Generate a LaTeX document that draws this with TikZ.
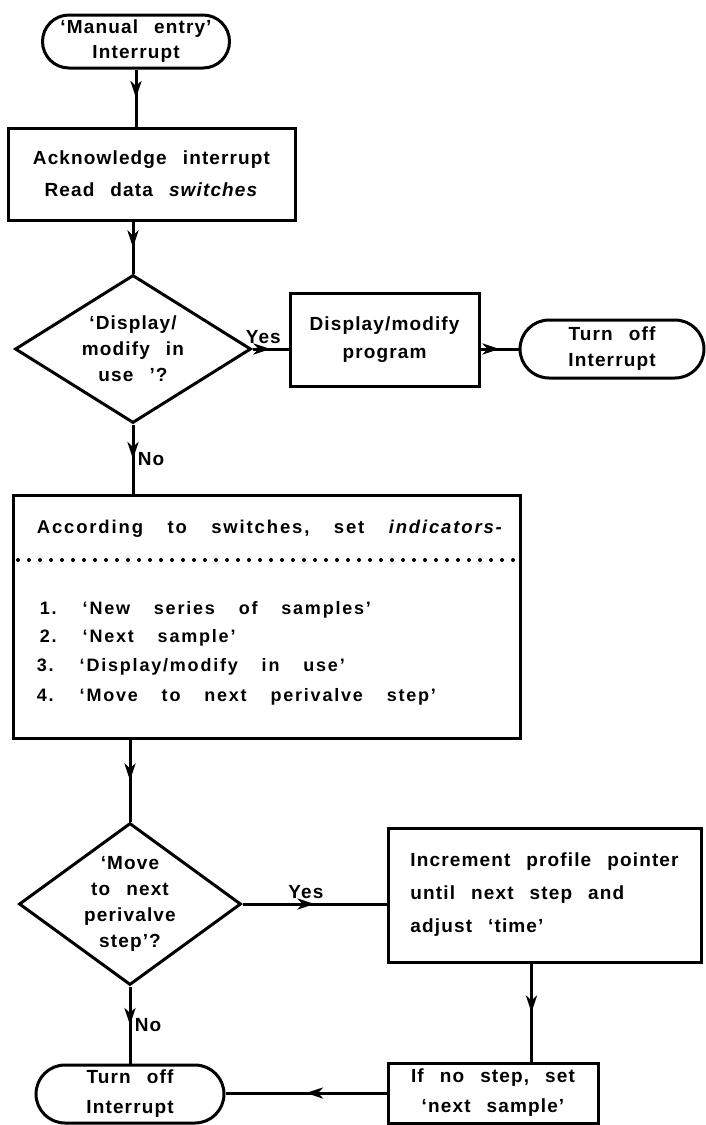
\documentclass[tikz,border=0pt]{standalone}
\usepackage{fontspec}
\setmainfont[LetterSpace=6,WordSpace=2.5]{Liberation Sans}
\newfontfamily\itemfont[Ligatures=TeX,LetterSpace=10,WordSpace=3.5]{Liberation Sans}
\usetikzlibrary{positioning,arrows.meta,shapes.geometric,shapes.misc,decorations.markings}

\begin{document}
\begin{tikzpicture}[x=1pt,y=-1pt,line width=3pt,
  every node/.style={font=\fontsize{19}{26}\selectfont\bfseries},
  box/.style={draw,rectangle,align=center,inner sep=0pt},
  term/.style={draw,rounded rectangle,align=center,inner sep=0pt},
  test/.style={draw,diamond,align=center,inner sep=0pt},
  item/.style={anchor=west,font=\itemfont\fontsize{18}{20}\selectfont\bfseries},
  flow/.style={postaction={decorate},decoration={markings,
    mark=at position 0.5 with {\arrow{Stealth[length=17pt,width=11pt,inset=5pt]}}}},
  dots/.style={line width=4pt,line cap=round,dash pattern=on 0pt off 11pt}]
\useasboundingbox (0,0) rectangle (705,1125);
% upper part
\node[term,minimum width=187pt,minimum height=53pt,font=\fontsize{19}{25}\selectfont\bfseries] (start) at (136,41.5) {`Manual entry'\\Interrupt};
\node[box,minimum width=287pt,minimum height=92pt,font=\fontsize{19}{32}\selectfont\bfseries] (ack) at (151.5,174) {Acknowledge interrupt\\Read data \textit{switches}};
\node[test,aspect=1.6,minimum width=236pt,minimum height=148pt] (dispq) at (133,349) {`Display/\\modify in\\use '?};
\node[box,minimum width=189pt,minimum height=93pt,font=\fontsize{19}{28}\selectfont\bfseries] (dispmod) at (384.5,340) {Display/modify\\program};
\node[term,minimum width=184pt,minimum height=58pt] (offA) at (612,349) {Turn off\\Interrupt};
% indicator box
\node[box,minimum width=507pt,minimum height=243pt] (setind) at (266.5,616.5) {};
\node[anchor=west,font=\itemfont\fontsize{18.5}{20}\selectfont\bfseries] (hdr) at (32,529) {According to switches, set \textit{indicators-}};
\draw[dots] (18,560) -- (516,560);
\node[item] (itemA) at (35,610) {1. `New series of samples'};
\node[item] (itemB) at (35,638) {2. `Next sample'};
\node[item] (itemC) at (32,667) {3. `Display/modify in use'};
\node[item] (itemD) at (32,697) {4. `Move to next perivalve step'};
% lower part
\node[test,aspect=1.37,minimum width=222pt,minimum height=162pt] (moveq) at (130,904) {`Move\\to next\\perivalve\\step'?};
\node[box,minimum width=313pt,minimum height=134pt,font=\fontsize{19}{33}\selectfont\bfseries,align=left] (incr) at (544.5,895) {Increment profile pointer\\until next step and\\adjust `time'};
\node[box,minimum width=210pt,minimum height=60pt,font=\fontsize{19}{30}\selectfont\bfseries] (nostep) at (493,1093) {If no step, set\\`next sample'};
\node[term,minimum width=188pt,minimum height=58pt,font=\fontsize{19}{30}\selectfont\bfseries] (offB) at (130,1094) {Turn off\\Interrupt};
% connectors
\draw[flow] (start) -- (start |- ack.north);
\draw[flow] (ack.south -| dispq) -- (dispq.north);
\draw[flow] (dispq.east) -- node[above,pos=0.3]{Yes} (dispq.east -| dispmod.west);
\draw[flow] (dispmod.east |- offA) -- (offA.west);
\draw[flow] (dispq.south) -- node[right]{No} (dispq.south |- setind.north);
\draw[flow] (setind.south -| moveq) -- (moveq.north);
\draw[flow] (moveq.east) -- node[above,pos=0.44]{Yes} (moveq.east -| incr.west);
\draw[flow] ([xshift=-13pt]incr.south) -- ([xshift=-13pt]incr.south |- nostep.north);
\draw[flow] (nostep.west) -- (nostep.west -| offB.east);
\draw[flow] (moveq.south) -- node[right]{No} (offB.north);
\end{tikzpicture}
\end{document}
